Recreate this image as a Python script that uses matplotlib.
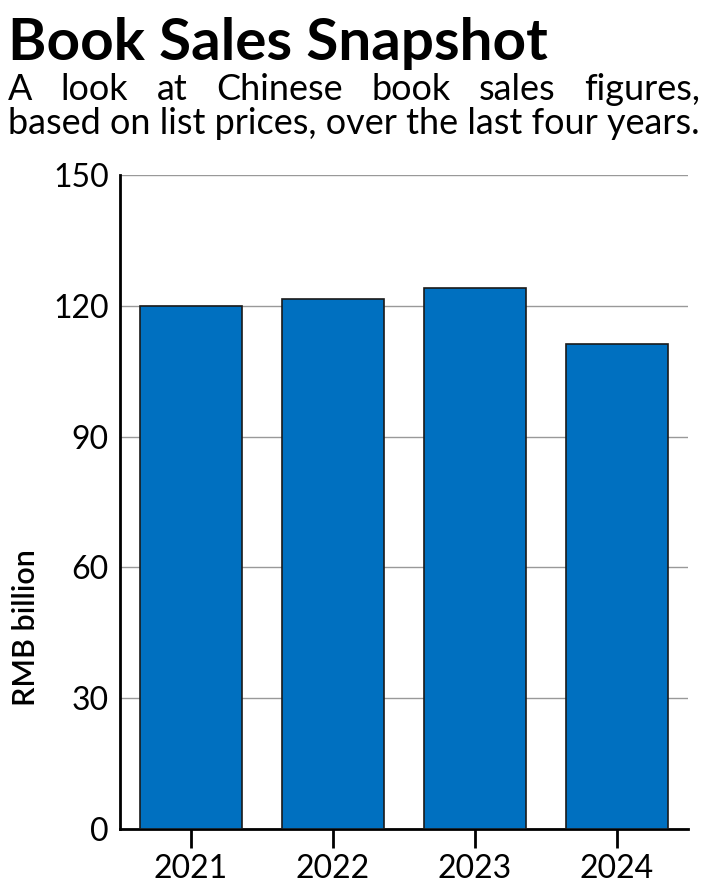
import matplotlib
matplotlib.use('Agg')
import matplotlib.pyplot as plt
import numpy as np

# data
years=['2021','2022','2023','2024']
sales=[120.0,121.5,124.0,111.2]
yticks=[0,30,60,90,120,150]

title='Book Sales Snapshot'
sub1='A look at Chinese book sales figures,'
sub2='based on list prices, over the last four years.'

W,H=706,884
plt.rcParams['font.family']=['Lato','DejaVu Sans']
fig=plt.figure(figsize=(W/100,H/100),dpi=100)
ax=fig.add_axes([120/W,(H-829)/H,568/W,654/H])

x=np.arange(len(years))
ax.bar(x,sales,width=0.72,color='#0070C0',edgecolor='#1a1a1a',linewidth=1.2,zorder=3)
ax.set_xlim(-0.5,len(years)-0.5)
ax.set_ylim(0,150)
ax.set_yticks(yticks)
ax.set_xticks(x)
ax.set_xticklabels(years)
ax.yaxis.grid(True,color='#999999',linewidth=1,zorder=0)
ax.tick_params(axis='y',length=0,labelsize=23,pad=8)
ax.tick_params(axis='x',length=14,width=2,labelsize=23,pad=4)
for s in ['top','right']:
  ax.spines[s].set_visible(False)
for s in ['left','bottom']:
  ax.spines[s].set_linewidth(2)
ax.set_ylabel('RMB billion',fontsize=22,fontweight='semibold')
ax.yaxis.set_label_coords(-80/568,(829-628)/654)

fig.text(8/W,1-60/H,title,fontsize=42,fontweight='bold',va='baseline',ha='left')

# justified first subtitle line, natural second line
fig.canvas.draw()
r=fig.canvas.get_renderer()
fs=24
t2=fig.text(8/W,1-134/H,sub2,fontsize=fs,va='baseline',ha='left')
w=t2.get_window_extent(r).width
fs=fs*692/w
t2.set_fontsize(fs)
words=sub1.split(' ')
objs=[fig.text(0,1-100/H,wd,fontsize=fs,va='baseline',ha='left') for wd in words]
widths=[o.get_window_extent(r).width for o in objs]
gap=(692-sum(widths))/(len(words)-1)
xpos=8
for o,wd in zip(objs,widths):
  o.set_x(xpos/W)
  xpos+=wd+gap

fig.savefig('out.png',dpi=100)
